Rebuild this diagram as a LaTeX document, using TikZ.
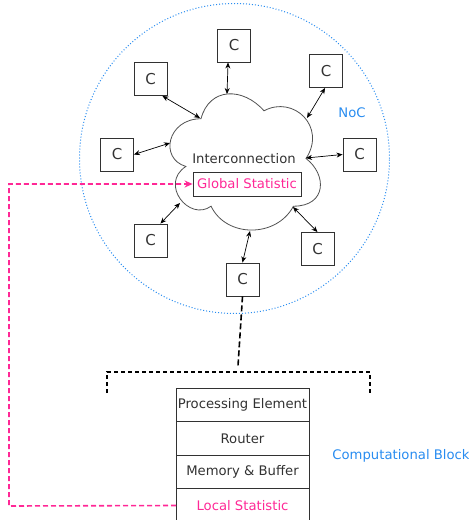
\documentclass[tikz,border=0pt]{standalone}
\usepackage{fontspec}
\setmainfont{DejaVu Sans}
\usetikzlibrary{arrows.meta}
\definecolor{pinkc}{RGB}{255,40,150}
\definecolor{bluec}{RGB}{40,140,240}
\definecolor{linec}{RGB}{50,50,50}
\tikzset{
  cbox/.style={draw=linec,line width=0.9pt,minimum width=33pt,minimum height=33pt,inner sep=0pt,font=\fontsize{15}{17}\selectfont,text=linec},
  link/.style={line width=0.7pt,{Stealth[length=6pt,width=5pt]}-{Stealth[length=6pt,width=5pt]},draw=black},
  stackrow/.style={draw=linec,line width=0.8pt,minimum width=133pt,minimum height=33.5pt,inner sep=0pt,outer sep=0pt,font=\fontsize{13.2}{15}\selectfont,text=linec},
  lbl/.style={font=\fontsize{13.2}{15}\selectfont},
}
\begin{document}
\begin{tikzpicture}[x=1pt,y=-1pt]
\useasboundingbox (0,0) rectangle (469,520);
% NoC circle
\node[draw=bluec,dotted,line width=1pt,circle,minimum size=310pt,inner sep=0pt] (noc) at (234.5,158.5) {};
\node[lbl,text=bluec] (noclbl) at (352,113) {NoC};
% cloud (drawn as a path in a 168x159 box at (159,79))
\begin{scope}[shift={(159,79)},x=168pt,y=-159pt]
\draw[linec!85,line width=0.8pt] (0.25,0.25)
  .. controls (0.05,0.25) and (0,0.5) .. (0.16,0.55)
  .. controls (0,0.66) and (0.18,0.9) .. (0.31,0.8)
  .. controls (0.4,1) and (0.7,1) .. (0.8,0.8)
  .. controls (1,0.8) and (1,0.6) .. (0.875,0.5)
  .. controls (1,0.3) and (0.8,0.1) .. (0.625,0.2)
  .. controls (0.5,0.05) and (0.3,0.05) .. (0.25,0.25) -- cycle;
\end{scope}
\node[lbl,text=linec] (inter) at (244,159) {Interconnection};
\node[draw=linec,line width=0.8pt,minimum width=108pt,minimum height=24pt,inner sep=0pt,lbl,text=pinkc] (gs) at (247,184) {Global Statistic};
% C nodes
\node[cbox] (ct) at (234,45.5) {C};
\node[cbox] (cul) at (150.5,79) {C};
\node[cbox] (cur) at (326,71) {C};
\node[cbox] (cl) at (117,154.5) {C};
\node[cbox] (cr) at (359.5,154.5) {C};
\node[cbox] (cll) at (150.5,240.5) {C};
\node[cbox] (clr) at (317.5,249) {C};
\node[cbox] (cb) at (242.5,279.5) {C};
% cloud end points
\coordinate (et) at (227,94);
\coordinate (eul) at (200,118);
\coordinate (eur) at (307,118);
\coordinate (el) at (170,143);
\coordinate (er) at (306,158);
\coordinate (ell) at (180,203);
\coordinate (elr) at (293,207);
\coordinate (eb) at (250,231);
\draw[link] (ct.south west)++(11,0) coordinate (st) (st) -- (et);
\draw[link] (cul.south east)++(-5,0) coordinate (sul) (sul) -- (eul);
\draw[link] (cur.south west)++(16,0) coordinate (sur) (sur) -- (eur);
\draw[link] (cl.east) -- (el);
\draw[link] (cr.west) -- (er);
\draw[link] (cll.north east)++(-7,0) coordinate (sll) (sll) -- (ell);
\draw[link] (clr.north) -- (elr);
\draw[link] (cb.north) -- (eb);
% stack
\node[stackrow] (pe) at (242.5,405) {Processing Element};
\node[stackrow,anchor=north] (ro) at (pe.south) {Router};
\node[stackrow,anchor=north] (mb) at (ro.south) {Memory \& Buffer};
\node[stackrow,anchor=north,text=pinkc] (ls) at (mb.south) {Local Statistic};
\node[lbl,text=bluec] (cblk) at (401,456) {Computational Block};
% dashed bracket
\coordinate (bt) at (238,366);
\coordinate (bl) at (107,393);
\coordinate (br) at (370,393);
\draw[line width=1.6pt,dash pattern=on 6pt off 3pt] (cb.south) -- (bt);
\draw[line width=1.2pt,dash pattern=on 4pt off 3pt] (bl) -- (107,372) -- (370,372) -- (br);
% pink link
\draw[pinkc,line width=1.6pt,dash pattern=on 5pt off 3pt,-{Stealth[length=8pt,width=7pt]}] (ls.west) -- (9,506) -- (9,184) -- (gs.west);
\end{tikzpicture}
\end{document}
